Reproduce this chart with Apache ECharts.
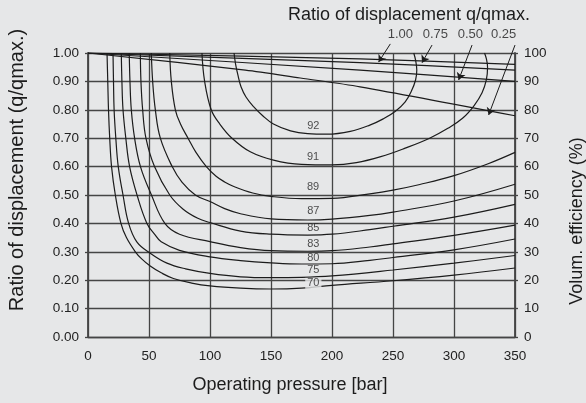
<!DOCTYPE html>
<html><head><meta charset="utf-8">
<script src="https://cdn.jsdelivr.net/npm/echarts@6/dist/echarts.min.js"></script>
<style>html,body{margin:0;padding:0;background:#e6e7e8}#c{width:586px;height:403px}</style>
</head><body><div id="c"></div>
<script>
// ---- data ----
const pressureRange = [0, 350];
const ratioRange = [0, 1];
const volRange = [0, 100];

// efficiency contours: [pressure bar, ratio q/qmax]
const eff70 = [[15.6,1.0],[16.2,0.9],[16.8,0.8],[17.8,0.7],[19.3,0.6],[22.4,0.5],[27,0.4],[31.5,0.35],[38.8,0.3],[44,0.275],[51,0.25],[60,0.226],[70,0.206],[85,0.19],[100,0.18],[125,0.172],[150,0.169],[175,0.172],[200,0.182],[250,0.198],[300,0.218],[350,0.243]];
const eff75 = [[20.5,1.0],[20.9,0.9],[21.4,0.8],[22.8,0.7],[24.8,0.6],[28.7,0.5],[33.3,0.4],[40,0.335],[51,0.295],[64.7,0.26],[80,0.24],[100,0.224],[125,0.212],[150,0.209],[175,0.21],[200,0.215],[250,0.236],[300,0.26],[350,0.287]];
const eff80 = [[27.3,1.0],[27.8,0.9],[28.7,0.8],[31,0.7],[34.1,0.6],[40.2,0.5],[48.3,0.4],[55,0.36],[60,0.335],[75,0.305],[100,0.282],[125,0.269],[150,0.261],[175,0.257],[200,0.258],[231,0.27],[250,0.28],[300,0.307],[350,0.345]];
const eff83 = [[33.8,1.0],[34.4,0.9],[35.5,0.8],[38.2,0.7],[43,0.6],[52,0.5],[63,0.4],[75,0.362],[100,0.336],[125,0.315],[150,0.304],[180,0.302],[200,0.304],[231,0.317],[250,0.328],[300,0.358],[350,0.394]];
const eff85 = [[42.9,1.0],[43.4,0.9],[44.8,0.8],[47.5,0.7],[54.5,0.6],[67,0.5],[78,0.45],[90,0.418],[100,0.403],[125,0.373],[150,0.362],[180,0.359],[200,0.362],[231,0.378],[250,0.39],[300,0.422],[350,0.467]];
const eff87 = [[51.9,1.0],[53,0.9],[55.2,0.8],[59.3,0.7],[69,0.6],[77,0.545],[88,0.5],[100,0.477],[112,0.452],[125,0.434],[150,0.416],[180,0.412],[200,0.415],[231,0.428],[250,0.44],[300,0.479],[350,0.538]];
const eff89 = [[67,1.0],[68.3,0.9],[71.6,0.8],[75.8,0.75],[82,0.7],[88.5,0.65],[97,0.6],[105,0.566],[112,0.546],[120,0.529],[135,0.507],[150,0.495],[175,0.487],[200,0.488],[231,0.504],[250,0.517],[272,0.537],[300,0.568],[328,0.61],[350,0.65]];
const eff91 = [[93.4,1.0],[95.6,0.9],[101,0.8],[108,0.75],[118,0.7],[133,0.652],[152,0.623],[175,0.608],[200,0.606],[220,0.614],[240,0.635],[260,0.665],[280,0.7],[295,0.735],[307,0.77],[316.5,0.815],[323,0.86],[326.5,0.905],[327.5,0.95],[326.5,0.98],[325,1.0]];
const eff92 = [[119.7,1.0],[121,0.96],[123,0.92],[125.5,0.88],[129.5,0.845],[135.7,0.811],[143,0.78],[152,0.75],[166,0.726],[180,0.716],[196,0.714],[215,0.724],[231,0.746],[242,0.768],[252,0.795],[260,0.828],[265,0.865],[268.5,0.905],[269.5,0.94],[268.5,0.975],[267,1.0]];

// contour labels: [pressure, ratio, text]
const contourLabels = [[184.7,0.744,'92'],[184.5,0.633,'91'],[184.5,0.527,'89'],[184.7,0.443,'87'],[184.7,0.383,'85'],[184.7,0.328,'83'],[184.7,0.278,'80'],[184.7,0.236,'75'],[184.7,0.189,'70']];

// volumetric efficiency (%) vs pressure for each displacement ratio
const vol100 = [[0,100],[223,97.9],[350,96]];
const vol075 = [[0,100],[223,96.6],[350,94]];
const vol050 = [[0,100],[223,94],[350,90]];
const vol025 = [[0,100],[129,94],[174,91.2],[223,88.1],[350,77.9]];

// arrow pointers: [from, to] in (pressure, %)
const arrow100 = [[247.8,103.2],[238.2,96.8]];
const arrow075 = [[282,102.8],[273.8,96.6]];
const arrow050 = [[314.8,102.8],[303.8,90.5]];
const arrow025 = [[350,102.8],[328.4,78.2]];
const ratioLabels = [[256,106.7,'1.00'],[284.7,106.7,'0.75'],[313.4,106.7,'0.50'],[340.7,106.7,'0.25']];

// ---- chart ----
const FONT = '"Liberation Sans", Arial, Helvetica, sans-serif';
const BG = '#e6e7e8';
const GRIDC = '#454545';
const INK = '#1c1c1c';

const contours = [eff70, eff75, eff80, eff83, eff85, eff87, eff89, eff91, eff92];
const volLines = [vol100, vol075, vol050, vol025];
const arrows = [arrow100, arrow075, arrow050, arrow025];

const series = [];
contours.forEach(d => series.push({
  type: 'line', data: d, smooth: 0.4, showSymbol: false, silent: true,
  lineStyle: {color: INK, width: 1.2}, z: 3
}));
volLines.forEach(d => series.push({
  type: 'line', yAxisIndex: 1, data: d, smooth: 0.3, showSymbol: false, silent: true,
  lineStyle: {color: INK, width: 1.2}, z: 3
}));
series.push({
  type: 'lines', coordinateSystem: 'cartesian2d', xAxisIndex: 0, yAxisIndex: 1,
  clip: false, silent: true, symbol: ['none', 'arrow'], symbolSize: 7,
  lineStyle: {color: INK, width: 1, opacity: 1},
  data: arrows.map(a => ({coords: a})), z: 4
});
series.push({
  type: 'scatter', yAxisIndex: 1, clip: false, silent: true, symbolSize: 1,
  itemStyle: {color: 'rgba(0,0,0,0)'},
  data: ratioLabels,
  label: {show: true, position: 'inside', formatter: p => p.data[2],
    fontFamily: FONT, fontSize: 13, color: INK}, z: 5
});
series.push({
  type: 'scatter', silent: true, symbolSize: 1,
  itemStyle: {color: 'rgba(0,0,0,0)'},
  data: contourLabels.map(d => d[2] === '70'
    ? {value: d, label: {backgroundColor: BG, padding: [0, 2]}} : {value: d}),
  label: {show: true, position: 'inside', formatter: p => p.data.value ? p.data.value[2] : p.data[2],
    fontFamily: FONT, fontSize: 11, color: '#262626'}, z: 5
});

const chart = echarts.init(document.getElementById('c'), null, {renderer: 'canvas'});
chart.setOption({
  backgroundColor: BG,
  animation: false,
  title: {text: 'Ratio of displacement q/qmax.', left: 283, top: 1,
    textStyle: {fontFamily: FONT, fontSize: 18, fontWeight: 'normal', color: INK}},
  grid: {left: 88, right: 71, top: 53, bottom: 66},
  xAxis: {type: 'value', min: pressureRange[0], max: pressureRange[1], interval: 50,
    axisLine: {show: true, lineStyle: {color: GRIDC, width: 1.3}},
    axisTick: {show: false},
    axisLabel: {margin: 12, fontFamily: FONT, fontSize: 13.5, color: '#222'},
    splitLine: {show: true, lineStyle: {color: GRIDC, width: 1.3}}},
  yAxis: [
    {type: 'value', min: ratioRange[0], max: ratioRange[1], interval: 0.1,
      axisLine: {show: true, lineStyle: {color: GRIDC, width: 1.8}},
      axisTick: {show: true, length: 3, lineStyle: {color: GRIDC, width: 1.3}},
      axisLabel: {margin: 9, fontFamily: FONT, fontSize: 13.5, color: '#222', formatter: v => v.toFixed(2)},
      splitLine: {show: true, lineStyle: {color: GRIDC, width: 1.3}}},
    {type: 'value', min: volRange[0], max: volRange[1], interval: 10, position: 'right',
      axisLine: {show: true, lineStyle: {color: GRIDC, width: 1.8}},
      axisTick: {show: true, length: 3, lineStyle: {color: GRIDC, width: 1.3}},
      axisLabel: {margin: 9, fontFamily: FONT, fontSize: 13.5, color: '#222'},
      splitLine: {show: false}}
  ],
  graphic: [
    {type: 'text', x: 290, y: 385, style: {text: 'Operating pressure [bar]', font: '18px ' + FONT,
      fill: INK, align: 'center', verticalAlign: 'middle'}},
    {type: 'text', x: 17, y: 170, rotation: Math.PI / 2, style: {text: 'Ratio of displacement (q/qmax.)',
      font: '20px ' + FONT, fill: INK, align: 'center', verticalAlign: 'middle'}},
    {type: 'text', x: 577, y: 221, rotation: Math.PI / 2, style: {text: 'Volum. efficiency (%)',
      font: '18px ' + FONT, fill: INK, align: 'center', verticalAlign: 'middle'}}
  ],
  series: series
});
</script></body></html>
